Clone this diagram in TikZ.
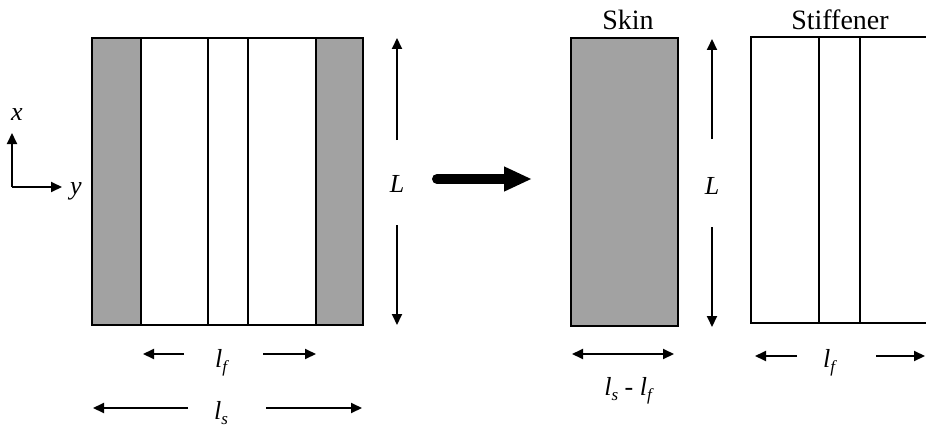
\documentclass[tikz,border=0pt]{standalone}
\usepackage{fontspec}
\setmainfont{Liberation Serif}
\usetikzlibrary{arrows.meta}
\definecolor{skingray}{RGB}{162,162,162}
\newcommand\mysub[1]{\raisebox{-5.5pt}{\fontsize{17}{18}\selectfont\itshape #1}}
\tikzset{
 panel/.style={line width=2.5pt},
 divider/.style={line width=1.8pt},
 dim/.style={line width=2pt,-{Triangle[length=11pt,width=10pt]}},
 dimboth/.style={line width=2pt,{Triangle[length=11pt,width=10pt]}-{Triangle[length=11pt,width=10pt]}},
 title/.style={font=\fontsize{28}{32}\selectfont, inner sep=0pt},
 lab/.style={font=\fontsize{26}{30}\selectfont\itshape, inner sep=0pt},
}
\begin{document}
\begin{tikzpicture}[x=1pt,y=-1pt]
\useasboundingbox (0,0) rectangle (926,428);
\clip (0,0) rectangle (926,428);
% axes
\coordinate (O) at (12,187);
\coordinate (Xa) at (12,133);
\coordinate (Ya) at (62,187);
\draw[dim] (O) -- (Xa);
\draw[dim] (O) -- (Ya);
\node[lab] (xlab) at (17,115) {x};
\node[lab] (ylab) at (76,191) {y};
% left panel
\fill[skingray] (92,38) rectangle (141,325);
\fill[skingray] (316,38) rectangle (363,325);
\draw[panel] (92,38) rectangle (363,325);
\foreach \x in {141,208,248,316} \draw[divider] (\x,38) -- (\x,325);
% left L
\node[lab] (L1) at (397,184) {L};
\coordinate (L1a) at (397,140);
\coordinate (L1t) at (397,38);
\coordinate (L1b) at (397,225);
\coordinate (L1e) at (397,325);
\draw[dim] (L1a) -- (L1t);
\draw[dim] (L1b) -- (L1e);
% left bottom dims
\node[lab] (lf1) at (221,363) {l\mysub{f}};
\coordinate (lf1a) at (184,354); \coordinate (lf1b) at (143,354);
\coordinate (lf1c) at (263,354); \coordinate (lf1d) at (316,354);
\draw[dim] (lf1a) -- (lf1b);
\draw[dim] (lf1c) -- (lf1d);
\node[lab] (ls1) at (221,413) {l\mysub{s}};
\coordinate (ls1a) at (188,408); \coordinate (ls1b) at (93,408);
\coordinate (ls1c) at (266,408); \coordinate (ls1d) at (362,408);
\draw[dim] (ls1a) -- (ls1b);
\draw[dim] (ls1c) -- (ls1d);
% big arrow
\coordinate (BA) at (437,179);
\coordinate (BB) at (532,179);
\draw[line width=10pt, line cap=round, -{Triangle[length=28pt,width=23pt]}] (BA) -- (BB);
% skin
\node[title] (skin) at (628,20) {Skin};
\fill[skingray] (571,38) rectangle (678,326);
\draw[panel] (571,38) rectangle (678,326);
\node[lab] (L2) at (712,186) {L};
\coordinate (L2a) at (712,139);
\coordinate (L2t) at (712,39);
\coordinate (L2b) at (712,227);
\coordinate (L2e) at (712,327);
\draw[dim] (L2a) -- (L2t);
\draw[dim] (L2b) -- (L2e);
\coordinate (sw1) at (572,354); \coordinate (sw2) at (674,354);
\draw[dimboth] (sw1) -- (sw2);
\node[lab] (lslf) at (628,391) {l\mysub{s}\upshape\ -\ \itshape l\mysub{f}};
% stiffener
\node[title] (stiff) at (840,20) {Stiffener};
\draw[panel] (751,37) rectangle (940,323);
\foreach \x in {819,860} \draw[divider] (\x,37) -- (\x,323);
\node[lab] (lf2) at (829,363) {l\mysub{f}};
\coordinate (lf2a) at (797,356); \coordinate (lf2b) at (755,356);
\coordinate (lf2c) at (876,356); \coordinate (lf2d) at (925,356);
\draw[dim] (lf2a) -- (lf2b);
\draw[dim] (lf2c) -- (lf2d);
\end{tikzpicture}
\end{document}
